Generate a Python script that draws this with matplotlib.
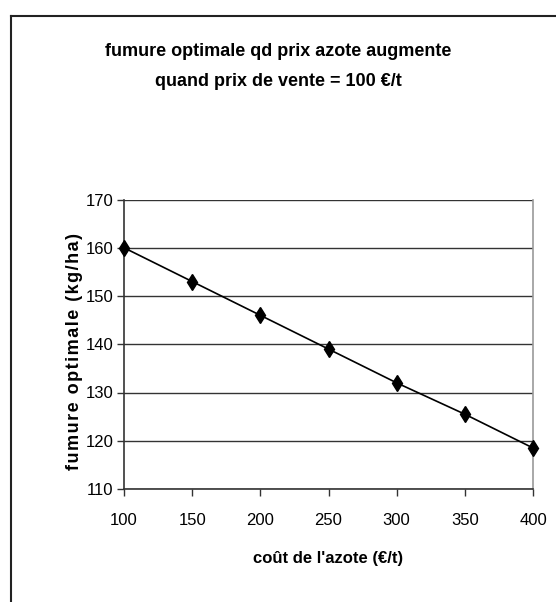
import matplotlib
matplotlib.use("Agg")
import matplotlib.pyplot as plt
from matplotlib.lines import Line2D

cout_azote = [100, 150, 200, 250, 300, 350, 400]
fumure = [160, 153, 146, 139, 132, 125.5, 118.5]
x_ticks = [100, 150, 200, 250, 300, 350, 400]
y_ticks = [110, 120, 130, 140, 150, 160, 170]

plt.rcParams['font.family'] = ['Liberation Sans', 'DejaVu Sans']

W, H = 556, 602
fig = plt.figure(figsize=(W / 100, H / 100), dpi=100)
ax = fig.add_axes([124 / W, 1 - 489 / H, (533 - 124) / W, (489 - 199.5) / H])

ax.plot(cout_azote, fumure, color='black', lw=1.2, marker='d', markersize=8.5,
        markerfacecolor='black', markeredgecolor='black', clip_on=False, zorder=3)

ax.set_xlim(100, 400)
ax.set_ylim(110, 170)
ax.set_xticks(x_ticks)
ax.set_yticks(y_ticks)
ax.tick_params(axis='both', labelsize=12, direction='out', length=5, width=1, color='#333333')
ax.tick_params(axis='x', pad=12)
ax.tick_params(axis='y', pad=2.5)
ax.yaxis.grid(True, color='#333333', lw=1)
ax.set_axisbelow(True)
for s in ['left', 'bottom']:
    ax.spines[s].set_color('#333333')
    ax.spines[s].set_linewidth(1.2)
ax.spines['top'].set_visible(False)
ax.spines['right'].set_color('#999999')
ax.spines['right'].set_linewidth(1.2)

ax.set_xlabel("coût de l'azote (€/t)", fontsize=12, fontweight='bold', labelpad=17)
hs = '\u200a'
ylab = hs.join("fumure optimale (kg/ha)")
ax.set_ylabel(ylab, fontsize=13, fontweight='bold', labelpad=3)
ax.yaxis.set_label_coords(-0.10, 0.475)

fig.text(0.5, 1 - 66 / H, "fumure optimale qd prix azote augmente\nquand prix de vente = 100 €/t",
         ha='center', va='center', fontsize=13, fontweight='bold', linespacing=2.0)

# outer chart frame (left and top edges)
fig.add_artist(Line2D([11 / W, 11 / W], [0, 1 - 16 / H], color='#222222', lw=1.5,
                      transform=fig.transFigure))
fig.add_artist(Line2D([11 / W, 1], [1 - 16 / H, 1 - 16 / H], color='#222222', lw=1.5,
                      transform=fig.transFigure))

fig.savefig("out.png", dpi=100)
